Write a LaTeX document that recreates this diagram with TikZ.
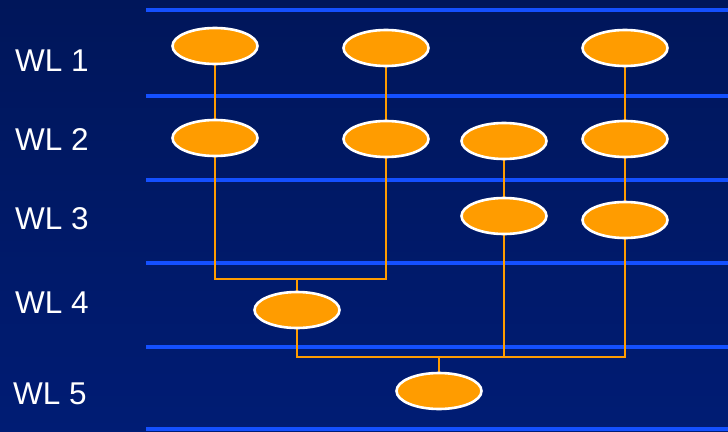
\documentclass[tikz,border=0pt]{standalone}
\usepackage{fontspec}
\setmainfont{Liberation Sans}
\usetikzlibrary{shapes.geometric,backgrounds}
\definecolor{slidetop}{HTML}{00165A}
\definecolor{slidebot}{HTML}{001C74}
\definecolor{wlblue}{HTML}{1450FF}
\definecolor{cellor}{HTML}{FF9C00}

\begin{document}
\begin{tikzpicture}[x=1pt,y=-1pt,font=\fontsize{31.5}{34}\selectfont,
 wl/.style={wlblue,line width=4.6pt},
 lnk/.style={cellor,line width=2.8pt},
 cell/.style={ellipse,fill=cellor,draw=white,line width=2.6pt,
   minimum width=85pt,minimum height=36pt,inner sep=0pt},
 lab/.style={text=white,anchor=west,inner sep=0pt}]
\useasboundingbox (0,0) rectangle (728,431);
% row labels
\foreach \i/\x/\y in {1/15/61,2/15/140,3/15/219,4/15/303,5/13/394}
  {\node[lab] (wl\i) at (\x,\y) {WL \i};}
% cells
\node[cell] (c1a) at (215,46) {};
\node[cell] (c1b) at (386,48) {};
\node[cell] (c1d) at (625,48) {};
\node[cell] (c2a) at (215,138) {};
\node[cell] (c2b) at (386,139) {};
\node[cell] (c2c) at (504,141) {};
\node[cell] (c2d) at (625,139) {};
\node[cell] (c3c) at (504,216) {};
\node[cell] (c3d) at (625,220) {};
\node[cell] (c4) at (297,310) {};
\node[cell] (c5) at (439,391) {};
\coordinate (m4) at (297,279);
\coordinate (m5) at (439,357);
\begin{scope}[on background layer]
\shade[top color=slidetop,bottom color=slidebot] (0,0) rectangle (728,431);
\foreach \y in {10,96,180,263,347,429}
  {\draw[wl] (146,\y) -- (728,\y);}
\draw[lnk] (c1a) -- (c2a);
\draw[lnk] (c1b) -- (c2b);
\draw[lnk] (c1d) -- (c2d) -- (c3d);
\draw[lnk] (c2c) -- (c3c);
\draw[lnk] (c2a) |- (m4) -| (c2b);
\draw[lnk] (m4) -- (c4);
\draw[lnk] (c4) |- (m5) -| (c3d);
\draw[lnk] (c3c) -- (c3c |- m5);
\draw[lnk] (m5) -- (c5);
\end{scope}
\end{tikzpicture}
\end{document}
